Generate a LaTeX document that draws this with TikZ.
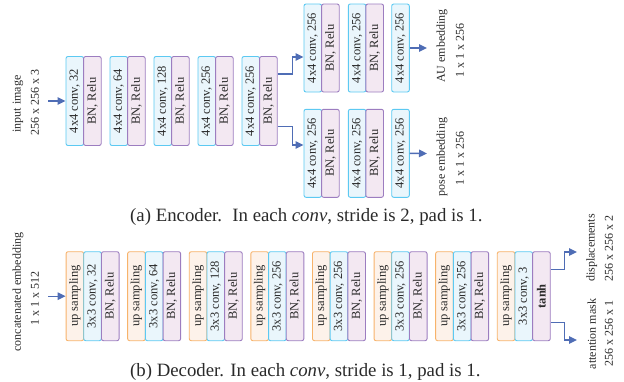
\documentclass[tikz,border=0pt]{standalone}
\usepackage{fontspec}
\setmainfont{Liberation Serif}
\usetikzlibrary{arrows.meta}
\definecolor{convfill}{HTML}{EAF6FC}
\definecolor{convdraw}{HTML}{5CC9F2}
\definecolor{bnfill}{HTML}{F3E8F2}
\definecolor{bndraw}{HTML}{9C7DC0}
\definecolor{upfill}{HTML}{FDF2EA}
\definecolor{updraw}{HTML}{F7B36B}
\definecolor{arrowblue}{HTML}{4F6DB5}
\definecolor{txt}{HTML}{2A2A2A}
\tikzset{
  layerbox/.style={rounded corners=2pt, line width=0.9pt, rotate=90, minimum width=89pt,
    minimum height=17.6pt, inner sep=0pt, text=txt, font=\fontsize{12.5}{12.5}\selectfont},
  convbox/.style={layerbox, fill=convfill, draw=convdraw},
  bnbox/.style={layerbox, fill=bnfill, draw=bndraw},
  upbox/.style={layerbox, fill=upfill, draw=updraw},
  flow/.style={draw=arrowblue, line width=1.4pt, -{Triangle[length=8pt,width=7.5pt]}},
  lbl/.style={rotate=90, inner sep=0pt, text=txt, font=\fontsize{12}{12}\selectfont},
  captext/.style={inner sep=0pt, text=txt, font=\fontsize{18.8}{18.8}\selectfont}
}
\begin{document}
\begin{tikzpicture}[x=1pt,y=1pt]
\useasboundingbox (0,0) rectangle (624,-381);
% ---------- Encoder ----------
\node[lbl] (inA) at (18,-104) {input image};
\node[lbl] (inB) at (35,-102) {256 x 256 x 3};
\foreach \i/\n in {1/32,2/64,3/128,4/256,5/256} {
  \node[convbox] (ec\i) at ({66+44*(\i-1)+8.8},-101) {4x4 conv, \n};
  \node[bnbox] (eb\i) at ({66+44*(\i-1)+26.4},-101) {BN, Relu};
}
\coordinate (ein) at (48,-101);
\draw[flow] (ein) -- (ec1.north);
% upper branch
\node[convbox, minimum width=88pt] (ua1) at (312.8,-48) {4x4 conv, 256};
\node[bnbox, minimum width=88pt] (ub1) at (330.4,-48) {BN, Relu};
\node[convbox, minimum width=88pt] (ua2) at (357.1,-48) {4x4 conv, 256};
\node[bnbox, minimum width=88pt] (ub2) at (374.7,-48) {BN, Relu};
\node[convbox, minimum width=88pt] (ua3) at (400.5,-48) {4x4 conv, 256};
% lower branch
\node[convbox, minimum width=88pt] (la1) at (312.8,-153.3) {4x4 conv, 256};
\node[bnbox, minimum width=88pt] (lb1) at (330.4,-153.3) {BN, Relu};
\node[convbox, minimum width=88pt] (la2) at (357.1,-153.3) {4x4 conv, 256};
\node[bnbox, minimum width=88pt] (lb2) at (374.7,-153.3) {BN, Relu};
\node[convbox, minimum width=88pt] (la3) at (400.5,-153.3) {4x4 conv, 256};
\draw[flow] ([yshift=27pt]eb5.south) -- ++(15,0) |- ([yshift=-9pt]ua1.north);
\draw[flow] ([yshift=-25.7pt]eb5.south) -- ++(15,0) |- ([yshift=8.3pt]la1.north);
\coordinate (auout) at (427,-48);
\coordinate (poseout) at (427,-153.5);
\draw[flow] (ua3.south) -- (auout);
\draw[flow] (la3.south) -- (poseout);
\node[lbl] (auA) at (442,-46) {AU embedding};
\node[lbl] (auB) at (460,-50) {1 x 1 x 256};
\node[lbl] (poA) at (442,-157) {pose embedding};
\node[lbl] (poB) at (460,-158) {1 x 1 x 256};
\node[captext, anchor=base west] (capa) at (130,-221) {(a) Encoder.\hspace{0.55em}In each \textit{conv}, stride is 2, pad is 1.};
% ---------- Decoder ----------
\node[lbl] (dinA) at (18,-292) {concatenated embedding};
\node[lbl] (dinB) at (35,-298) {1 x 1 x 512};
\foreach \i/\n in {1/32,2/64,3/128,4/256,5/256,6/256,7/256} {
  \node[upbox] (du\i) at ({66+61.6*(\i-1)+8.85},-296.2) {up sampling};
  \node[convbox] (dc\i) at ({66+61.6*(\i-1)+26.55},-296.2) {3x3 conv, \n};
  \node[bnbox] (db\i) at ({66+61.6*(\i-1)+44.25},-296.2) {BN, Relu};
}
\node[upbox] (du8) at ({66+61.6*7+8.85},-296.2) {up sampling};
\node[convbox] (dc8) at ({66+61.6*7+26.55},-296.2) {3x3 conv, 3};
\node[bnbox] (db8) at ({66+61.6*7+44.25},-296.2) {\textbf{tanh}};
\coordinate (din) at (48,-296.2);
\draw[flow] (din) -- (du1.north);
\coordinate (dispout) at (577,-252);
\coordinate (maskout) at (577,-340);
\draw[flow] ([yshift=26.9pt]db8.south) -- ++(13.5,0) |- (dispout);
\draw[flow] ([yshift=-26.5pt]db8.south) -- ++(13.5,0) |- (maskout);
\node[lbl] (dispA) at (591.7,-248) {displacements};
\node[lbl] (dispB) at (609,-248) {256 x 256 x 2};
\node[lbl] (maskA) at (591.7,-334) {attention mask};
\node[lbl] (maskB) at (609,-333) {256 x 256 x 1};
\node[captext, anchor=base west] (capb) at (130,-376.7) {(b) Decoder. In each \textit{conv}, stride is 1, pad is 1.};
\end{tikzpicture}
\end{document}
